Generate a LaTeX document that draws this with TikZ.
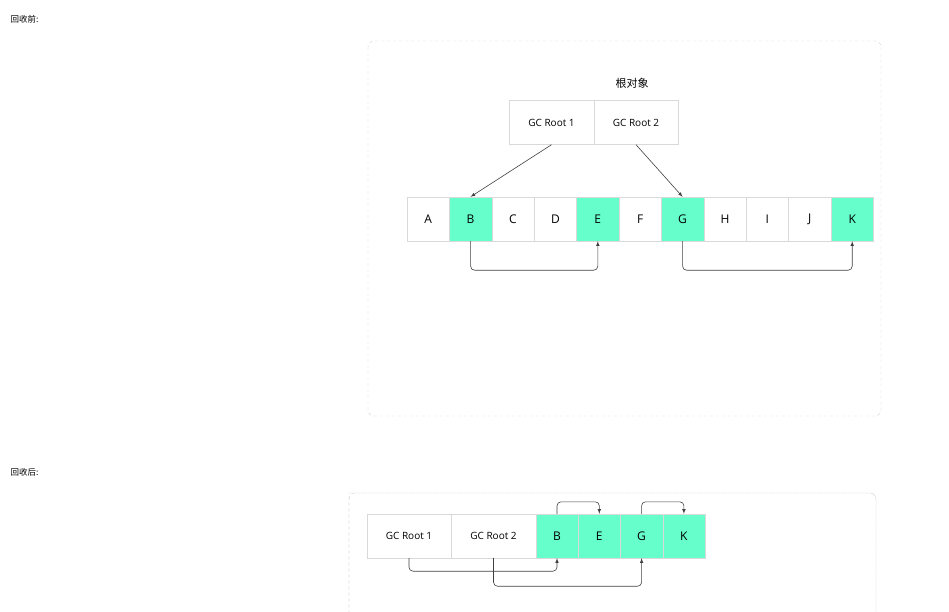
\documentclass[tikz,border=0pt]{standalone}
\usepackage{fontspec}
\setmainfont{Open Sans}
\newfontfamily\cjk{Noto Sans CJK SC}
\begin{document}
\begin{tikzpicture}[x=1pt,y=-1pt,
  cell/.style={draw=black!15,minimum height=44pt,inner sep=0pt,font=\fontsize{12}{14}\selectfont},
  wc/.style={cell,fill=white},
  gc/.style={cell,fill=green!40!cyan!60!white,fill={rgb,255:red,102;green,255;blue,204}},
  fr/.style={draw=black!20,dashed,rounded corners=6pt},
  conn/.style={draw=black!75,-latex,rounded corners=4pt,line width=0.6pt}]
\useasboundingbox (0,0) rectangle (949,612);
\node[anchor=west,font=\cjk\fontsize{8.5}{10}\selectfont] (t1) at (7,19) {回收前:};
\node[anchor=west,font=\cjk\fontsize{8.5}{10}\selectfont] (t2) at (7,472) {回收后:};
\draw[fr] (368,41) rectangle (881,416);
\draw[fr] (349,493) -- (876,493) -- (876,620) (349,620) -- (349,493);
\draw[black!20,dashed,rounded corners=6pt] (349,625) -- (349,493) -- (876,493) -- (876,625);
\node[font=\cjk\fontsize{11}{13}\selectfont] (lab) at (632,83) {根对象};
\node[wc,minimum width=85pt,font=\fontsize{10}{12}\selectfont] (r1) at (551.5,122.5) {GC Root 1};
\node[wc,minimum width=84pt,font=\fontsize{10}{12}\selectfont] (r2) at (636,122.5) {GC Root 2};
\foreach \n/\s [count=\i from 0] in {A/wc,B/gc,C/wc,D/wc,E/gc,F/wc,G/gc,H/wc,I/wc,J/wc,K/gc}{
  \node[\s,minimum width=42.4pt] (\n) at ({428.2+42.4*\i},219) {\n};
}
\draw[conn] (r1.south) -- (B.north);
\draw[conn] (r2.south) -- (G.north);
\draw[conn] (B.south) -- ++(0,29) -| (E.south);
\draw[conn] (G.south) -- ++(0,29) -| (K.south);
% after
\node[wc,minimum width=84pt,font=\fontsize{10}{12}\selectfont] (s1) at (409,536) {GC Root 1};
\node[wc,minimum width=85pt,font=\fontsize{10}{12}\selectfont] (s2) at (493.5,536) {GC Root 2};
\node[gc,minimum width=42.3pt] (b2) at (557,536) {B};
\node[gc,minimum width=42.3pt] (e2) at (599.3,536) {E};
\node[gc,minimum width=42.3pt] (g2) at (641.6,536) {G};
\node[gc,minimum width=42.3pt] (k2) at (683.9,536) {K};
\draw[conn] (b2.north) -- ++(0,-12) -| (e2.north);
\draw[conn] (g2.north) -- ++(0,-12) -| (k2.north);
\draw[conn] (s1.south) -- ++(0,13) -| (b2.south);
\draw[conn] (s2.south) -- ++(0,28) -| (g2.south);
\end{tikzpicture}
\end{document}
